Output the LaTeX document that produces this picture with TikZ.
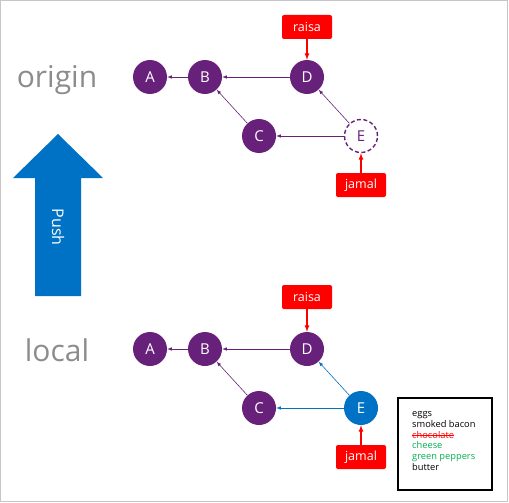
\documentclass[tikz,border=0pt]{standalone}
\usepackage{fontspec}
\setmainfont{Open Sans}
\usepackage{tikz}
\definecolor{gitpurple}{HTML}{68217A}
\definecolor{gitblue}{HTML}{0072C6}
\definecolor{gitgreen}{HTML}{00B050}
\newcommand\struck[1]{\setbox0\hbox{#1}\rlap{\rule[0.28em]{\wd0}{0.6pt}}\box0}
\tikzset{
  commit/.style={circle, fill=gitpurple, text=white, minimum size=34pt, inner sep=0pt, font=\fontsize{15}{15}\selectfont},
  newcommit/.style={commit, fill=gitblue},
  ghost/.style={commit, fill=white, draw=gitpurple, dash pattern=on 4pt off 2.5pt, line width=1.4pt, text=gitpurple, minimum size=33pt},
  branch/.style={fill=red, text=white, rounded corners=2pt, minimum width=50pt, minimum height=24pt, inner sep=0pt, font=\fontsize{12.5}{12.5}\selectfont},
  repo/.style={text=gray!90, font=\fontsize{30}{30}\selectfont},
  parent/.style={->, >=latex, gitpurple, semithick},
  newparent/.style={parent, gitblue},
  head/.style={->, >=latex, red, very thick}
}
\begin{document}
\begin{tikzpicture}[x=1pt,y=-1pt]
\useasboundingbox (0,0) rectangle (509,503);
\draw[gray!45] (0.5,0.5) rectangle (507,501);
% origin
\node[repo] (origin) at (57,80) {origin};
\node[commit] (oA) at (150,77) {A};
\node[commit] (oB) at (205,77) {B};
\node[commit] (oD) at (307,77) {D};
\node[commit] (oC) at (259,136) {C};
\node[ghost] (oE) at (361,136) {E};
\node[branch] (oraisa) at (307,27) {raisa};
\node[branch] (ojamal) at (361,185) {jamal};
\draw[parent] (oB) -- (oA);
\draw[parent] (oD) -- (oB);
\draw[parent] (oC) -- (oB);
\draw[parent] (oE) -- (oD);
\draw[parent] (oE) -- (oC);
\draw[head] (oraisa) -- (oD);
\draw[head] (ojamal) -- (oE);
% push
\fill[gitblue] (35,296) -- (35,178) -- (13,178) -- (58,134) -- (103,178) -- (81,178) -- (81,296) -- cycle;
\node[text=white, rotate=-90, font=\fontsize{16}{16}\selectfont] (push) at (58,227) {Push};
% local
\node[repo] (local) at (57,350) {local};
\node[commit] (lA) at (150,349) {A};
\node[commit] (lB) at (205,349) {B};
\node[commit] (lD) at (307,349) {D};
\node[commit] (lC) at (259,408) {C};
\node[newcommit] (lE) at (361,408) {E};
\node[branch] (lraisa) at (307,297) {raisa};
\node[branch] (ljamal) at (361,457) {jamal};
\draw[parent] (lB) -- (lA);
\draw[parent] (lD) -- (lB);
\draw[parent] (lC) -- (lB);
\draw[newparent] (lE) -- (lD);
\draw[newparent] (lE) -- (lC);
\draw[head] (lraisa) -- (lD);
\draw[head] (ljamal) -- (lE);
% list
\node[draw, line width=2pt, minimum width=94pt, minimum height=92pt, inner sep=0pt] (list) at (444.5,443.5) {};
\node[anchor=north west, align=left, inner sep=0pt, font=\fontsize{9.3}{10.7}\selectfont] (items) at (412,411.5) {eggs\\smoked bacon\\{\color{red}\struck{chocolate}}\\{\color{gitgreen}cheese}\\{\color{gitgreen}green peppers}\\butter};
\end{tikzpicture}
\end{document}
